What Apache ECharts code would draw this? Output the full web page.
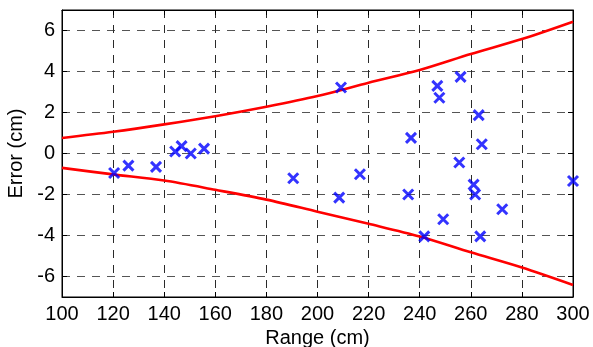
<!DOCTYPE html>
<html>
<head>
<meta charset="utf-8">
<script src="https://cdn.jsdelivr.net/npm/echarts@6/dist/echarts.min.js"></script>
<style>
  html, body { margin: 0; padding: 0; background: #fff; }
  #chart { width: 593px; height: 347px; }
</style>
</head>
<body>
<div id="chart"></div>
<script>
// Measured range (cm) and error (cm) of each sample
const rangeCm = [120.4, 126.0, 136.8, 144.3, 146.8, 150.4, 155.6, 190.5, 208.5, 209.2,
                 216.6, 235.5, 236.6, 241.8, 246.9, 247.7, 249.2, 256.0, 255.5, 261.1,
                 261.7, 263.1, 263.7, 264.3, 272.3, 300.0];
const errorCm = [-0.95, -0.59, -0.65, 0.10, 0.36, 0.00, 0.24, -1.21, -2.15, 3.22,
                 -1.01, -2.00, 0.76, -4.04, 3.30, 2.72, -3.21, 3.74, -0.44, -1.52,
                 -2.00, 1.87, -4.04, 0.45, -2.72, -1.34];

// Error bounds sampled along the range axis
const boundRange = [100, 120, 140, 160, 180, 200, 220, 240, 260, 280, 300];
const upperBound = [0.76, 1.06, 1.42, 1.82, 2.28, 2.80, 3.45, 4.07, 4.85, 5.58, 6.43];
const lowerBound = [-0.70, -1.02, -1.32, -1.77, -2.25, -2.84, -3.43, -4.05, -4.82, -5.56, -6.41];

// Axis ticks
const xTicks = [100, 120, 140, 160, 180, 200, 220, 240, 260, 280, 300];
const yTicks = [-6, -4, -2, 0, 2, 4, 6];

const FONT = '"Liberation Sans", Arial, sans-serif';

const chart = echarts.init(document.getElementById('chart'), null, { renderer: 'canvas' });

const gridLine = (color) => ({
  show: true,
  lineStyle: { color: color, width: 1, type: [8, 7] }
});

const option = {
  animation: false,
  backgroundColor: '#fff',
  grid: {
    left: 62, right: 20, top: 10, bottom: 50,
    outerBoundsMode: 'none', containLabel: false,
    show: true, borderColor: '#000', borderWidth: 1, backgroundColor: 'transparent'
  },
  xAxis: [
    {
      type: 'value', position: 'bottom',
      min: xTicks[0], max: xTicks[xTicks.length - 1], interval: 20,
      name: 'Range (cm)', nameLocation: 'middle', nameGap: 24,
      nameTextStyle: { fontFamily: FONT, fontSize: 20, color: '#000' },
      axisLine: { show: true, onZero: false, lineStyle: { color: '#000', width: 1 } },
      axisTick: { show: true, inside: true, length: 5, lineStyle: { color: '#000' } },
      axisLabel: { fontFamily: FONT, fontSize: 20, color: '#000', margin: 7 },
      splitLine: gridLine('#2a2a2a')
    },
    {
      type: 'value', position: 'top',
      min: xTicks[0], max: xTicks[xTicks.length - 1], interval: 20,
      axisLine: { show: true, onZero: false, lineStyle: { color: '#000', width: 1 } },
      axisTick: { show: true, inside: true, length: 5, lineStyle: { color: '#000' } },
      axisLabel: { show: false },
      splitLine: { show: false }
    }
  ],
  yAxis: [
    {
      type: 'value', position: 'left',
      min: -7, max: 7,
      name: 'Error (cm)', nameLocation: 'middle', nameGap: 28,
      nameTextStyle: { fontFamily: FONT, fontSize: 20, color: '#000' },
      axisLine: { show: true, onZero: false, lineStyle: { color: '#000', width: 1 } },
      axisTick: { show: true, inside: true, length: 5, customValues: yTicks, lineStyle: { color: '#000' } },
      axisLabel: { fontFamily: FONT, fontSize: 20, color: '#000', margin: 7, customValues: yTicks },
      splitLine: gridLine('#555')
    },
    {
      type: 'value', position: 'right',
      min: -7, max: 7,
      axisLine: { show: true, onZero: false, lineStyle: { color: '#000', width: 1 } },
      axisTick: { show: true, inside: true, length: 5, customValues: yTicks, lineStyle: { color: '#000' } },
      axisLabel: { show: false, customValues: yTicks },
      splitLine: { show: false }
    }
  ],
  series: [
    {
      type: 'line', xAxisIndex: 0, yAxisIndex: 0,
      data: boundRange.map((r, i) => [r, upperBound[i]]),
      showSymbol: false, smooth: 0.3,
      lineStyle: { color: '#ff0000', width: 2.6 },
      z: 3
    },
    {
      type: 'line', xAxisIndex: 0, yAxisIndex: 0,
      data: boundRange.map((r, i) => [r, lowerBound[i]]),
      showSymbol: false, smooth: 0.3,
      lineStyle: { color: '#ff0000', width: 2.6 },
      z: 3
    },
    {
      type: 'scatter', xAxisIndex: 0, yAxisIndex: 0,
      data: rangeCm.map((r, i) => [r, errorCm[i]]),
      symbol: 'path://M0,0L10,10M10,0L0,10',
      symbolSize: 10,
      itemStyle: { color: 'rgba(0,0,0,0)', borderColor: '#0000ff', borderWidth: 3 },
      z: 4
    }
  ]
};

chart.setOption(option);
</script>
</body>
</html>
